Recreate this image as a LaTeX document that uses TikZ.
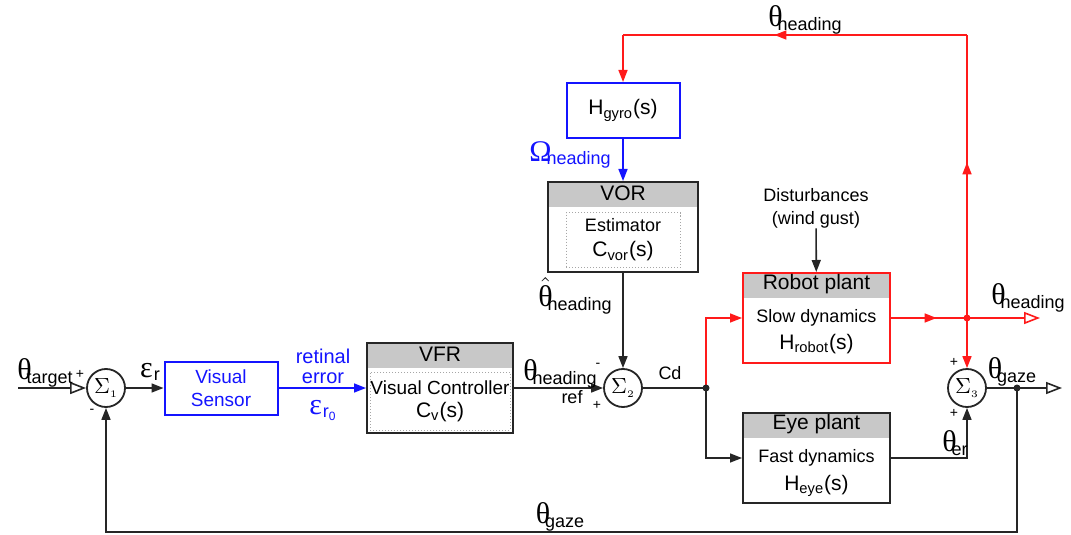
\documentclass[tikz,border=0pt]{standalone}
\usepackage{fontspec}
\setmainfont{Liberation Sans}
\newfontfamily\grk{Liberation Serif}
\usepackage{tikz}
\usetikzlibrary{positioning,arrows.meta,calc,decorations.markings}
\definecolor{wire}{HTML}{262626}
\definecolor{gyroblue}{HTML}{1414FF}
\definecolor{plantred}{HTML}{FF1A1A}
\definecolor{hdrgray}{HTML}{C8C8C8}
% signal name: big upright greek letter, lowered index word
\newcommand{\glab}[3][-2.5pt]{{\grk\fontsize{15}{15}\selectfont#2}\kern#1\raisebox{-0.4ex}{#3}}
% transfer function, a little larger than the block text
\newcommand{\tfn}[2]{{\fontsize{10.5}{10.5}\selectfont #1\textsubscript{#2}(s)}}

\begin{document}
\begin{tikzpicture}[x=0.5pt, y=-0.5pt,
    >={Triangle[length=6pt,width=4.5pt]},
    every node/.style={font=\fontsize{9}{11.5}\selectfont},
    blk/.style={draw=wire, line width=1pt, minimum width=73.5pt,
      minimum height=45pt, inner sep=0pt, align=center},
    hdr/.style={path picture={\fill[hdrgray] (path picture bounding box.north west)
      rectangle ([yshift=-12.5pt]path picture bounding box.north east);}},
    hdrtxt/.style={font=\fontsize{10.5}{12}\selectfont, inner sep=0pt},
    inbox/.style={draw=gray!70, densely dotted, line width=0.5pt, align=center, inner sep=0pt},
    body/.style={align=center, inner sep=0pt},
    sum/.style={circle, draw=wire, line width=0.9pt, minimum size=19pt, inner sep=0pt,
      font=\fontsize{11}{11}\selectfont},
    wirec/.style={wire, line width=0.8pt},
    redc/.style={plantred, line width=0.8pt},
    bluec/.style={gyroblue, line width=0.8pt},
    openarr/.style={-{Triangle[open,length=8pt,width=6pt]}},
    jdot/.style={circle, fill=#1, inner sep=0pt, minimum size=3.5pt},
    sgn/.style={font=\fontsize{7}{7}\selectfont, inner sep=0pt},
    lbl/.style={inner sep=0pt, align=center},
    midarr/.style={postaction={decorate}, decoration={markings,
      mark=at position #1 with {\arrow{>}}}},
  ]
  \useasboundingbox (0,0) rectangle (1071,535);

  % blocks
  \node[sum] (s1) at (106,388) {$\Sigma_{\scriptscriptstyle 1}$};
  \node[blk, draw=gyroblue, text=gyroblue, minimum width=56.5pt, minimum height=26.5pt,
    font=\fontsize{9.5}{11.5}\selectfont] (vs) at (221,388) {Visual\\Sensor};

  \node[blk, hdr, minimum width=73pt] (vfr) at (440,388) {};
  \node[hdrtxt] (vfrh) at ([yshift=-6.25pt]vfr.north) {VFR};
  \node[inbox, minimum width=70pt, minimum height=29pt, font=\fontsize{9.5}{11.5}\selectfont]
    (vfrin) at ([yshift=-6.5pt]vfr.center) {Visual Controller\\\tfn{C}{v}};

  \node[blk, draw=gyroblue, minimum width=56.5pt, minimum height=27.5pt]
    (gyro) at (623,110.5) {\tfn{H}{gyro}};

  \node[blk, hdr, minimum width=75pt] (vor) at (623,227) {};
  \node[hdrtxt] (vorh) at ([yshift=-6.25pt]vor.north) {VOR};
  \node[inbox, minimum width=57pt, minimum height=27.5pt, font=\fontsize{9}{12.5}\selectfont]
    (vorin) at ([yshift=-6.5pt]vor.center) {Estimator\\\tfn{C}{vor}};

  \node[sum] (s2) at (623,388) {$\Sigma_{\scriptscriptstyle 2}$};

  \node[blk, hdr, draw=plantred] (robot) at (816.5,318) {};
  \node[hdrtxt] (roboth) at ([yshift=-6.25pt]robot.north) {Robot plant};
  \node[body, font=\fontsize{9}{13.5}\selectfont] (robotb) at ([yshift=-6.75pt]robot.center)
    {Slow dynamics\\\tfn{H}{robot}};

  \node[blk, hdr] (eye) at (816.5,458) {};
  \node[hdrtxt] (eyeh) at ([yshift=-6.25pt]eye.north) {Eye plant};
  \node[body, font=\fontsize{9}{14}\selectfont] (eyeb) at ([yshift=-7.5pt]eye.center)
    {Fast dynamics\\\tfn{H}{eye}};

  \node[sum] (s3) at (967,388) {$\Sigma_{\scriptscriptstyle 3}$};

  \node[lbl] (dist) at (816,208) {Disturbances\\(wind gust)};

  % junctions and free ends
  \coordinate (tin) at (18,388);
  \coordinate (j1) at (706,388);
  \coordinate (j2) at (967,318);
  \coordinate (hout) at (1040,318);
  \coordinate (tr) at (967,35);
  \coordinate (tl) at (623,35);
  \coordinate (j3) at (1017,388);
  \coordinate (gout) at (1062,388);
  \coordinate (fb) at (1017,532);

  % forward path
  \draw[wirec, openarr] (tin) -- (s1);
  \draw[wirec, ->] (s1) -- (vs);
  \draw[bluec, ->] (vs) -- (vfr);
  \draw[wirec, ->] (vfr) -- (s2);
  \draw[wirec] (s2) -- (j1);
  \draw[redc, ->] (j1) |- (robot);
  \draw[wirec, ->] (j1) |- (eye);
  \draw[redc, midarr=0.6] (robot) -- (j2);
  \draw[redc, openarr] (j2) -- (hout);
  \draw[redc, ->] (j2) -- (s3);
  \draw[wirec, ->] (eye) -| (s3);
  \draw[wirec] (s3) -- (j3);
  \draw[wirec, openarr] (j3) -- (gout);
  \draw[wirec, ->] (dist) -- (robot);

  % gyro loop
  \draw[redc, midarr=0.55] (j2) -- (tr);
  \draw[redc, midarr=0.56] (tr) -- (tl);
  \draw[redc, ->] (tl) -- (gyro);
  \draw[bluec, ->] (gyro) -- (vor);
  \draw[wirec, ->] (vor) -- (s2);

  % gaze feedback
  \draw[wirec, ->] (j3) -- (fb) -| (s1);

  \node[jdot=wire] (d1) at (j1) {};
  \node[jdot=plantred] (d2) at (j2) {};
  \node[jdot=wire] (d3) at (j3) {};

  % signal labels
  \node[lbl] (ltarget) at (45,373) {\glab{θ}{target}};
  \node[lbl] (lepsr) at (150,372) {\glab[0.5pt]{ε}{r}};
  \node[lbl, text=gyroblue, font=\fontsize{10}{10}\selectfont] (lret) at (323,366) {retinal\\error};
  \node[lbl, text=gyroblue] (lepsr0) at (323,410) {\glab[0.5pt]{ε}{r\textsubscript{0}}};
  \node[lbl] (lhref) at (560,374) {\glab{θ}{heading}};
  \node[lbl] (lref) at (572,397) {ref};
  \node[lbl] (lcd) at (670,373) {Cd};
  \node[lbl] (lhhat) at (575,296) {\glab{$\hat{\hbox{θ}}$}{heading}};
  \node[lbl, text=gyroblue] (lomega) at (570,155) {\glab{Ω}{heading}};
  \node[lbl] (lhtop) at (805,20) {\glab{θ}{heading}};
  \node[lbl] (lhout) at (1028,298) {\glab{θ}{heading}};
  \node[lbl] (lgaze) at (1012,372) {\glab{θ}{gaze}};
  \node[lbl] (ler) at (955,443) {\glab{θ}{er}};
  \node[lbl] (lgazefb) at (560,517) {\glab{θ}{gaze}};

  % signs at the summing points
  \node[sgn] (p1) at (80,374) {+};
  \node[sgn] (m1) at (92,411) {-};
  \node[sgn] (m2) at (598,365) {-};
  \node[sgn] (p2) at (597,405) {+};
  \node[sgn] (p3a) at (954,362) {+};
  \node[sgn] (p3b) at (954,413) {+};
\end{tikzpicture}
\end{document}
